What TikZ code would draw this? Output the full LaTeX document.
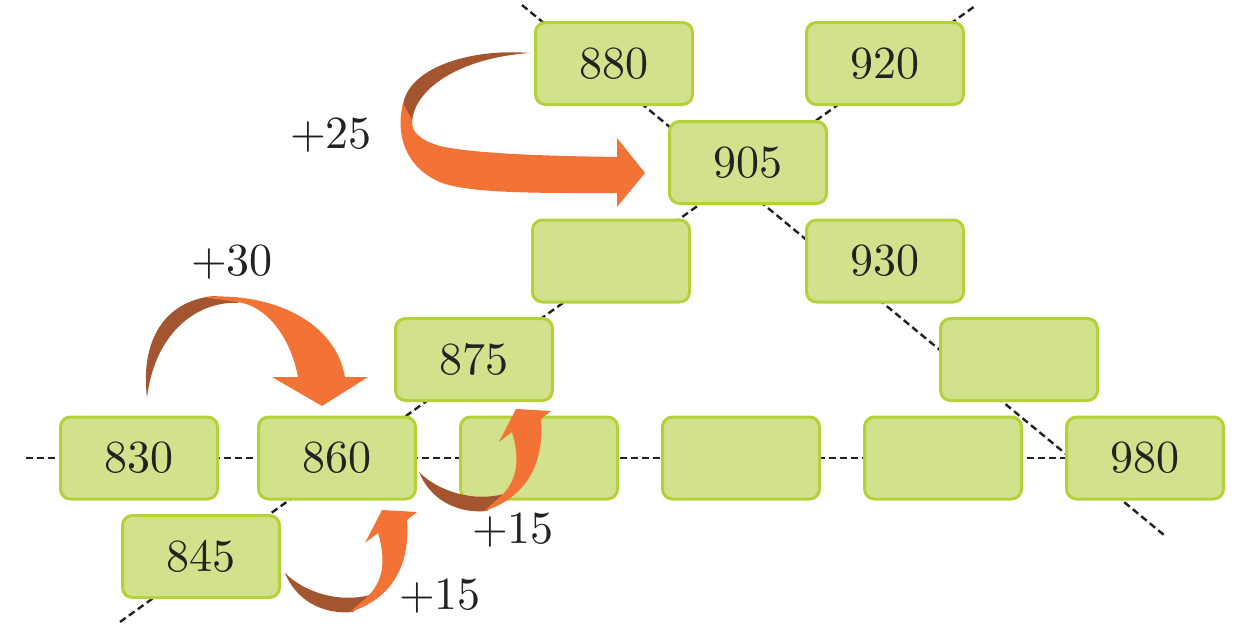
\documentclass[tikz,border=0pt]{standalone}
\usepackage{fontspec}
\setmainfont{lmroman10-regular.otf}
\definecolor{boxfill}{HTML}{D2E18B}
\definecolor{boxline}{HTML}{B3D23A}
\definecolor{arrorange}{HTML}{F37336}
\definecolor{arrbrown}{HTML}{A3552F}
\definecolor{txt}{HTML}{222222}
\tikzset{
  numbox/.style={draw=boxline, fill=boxfill, line width=3pt, rounded corners=10pt,
    minimum width=157pt, minimum height=82pt, inner sep=0pt, text=txt,
    font=\fontsize{46}{56}\selectfont},
  guide/.style={dash pattern=on 7pt off 4pt, line width=2.4pt, draw=txt},
  steplabel/.style={anchor=base, text=txt, inner sep=0pt, font=\fontsize{46}{56}\selectfont},
  frontface/.style={fill=arrorange},
  backface/.style={fill=arrbrown},
}
\newcommand{\hoparrow}[1]{%
  \begin{scope}[shift={#1}]
    \fill[backface] (0,0) .. controls (10,25) and (35,42) .. (68,39) -- (85,22)
      .. controls (55,30) and (20,20) .. (0,0) -- cycle;
    \fill[frontface] (65,39) .. controls (100,28) and (126,0) .. (122,-53) -- (132,-61)
      -- (97,-63) -- (80,-30) -- (93,-40) .. controls (102,-10) and (97,10) .. (82,24) -- cycle;
  \end{scope}}
\begin{document}
\begin{tikzpicture}[x=1pt,y=-1pt]
\useasboundingbox (0,0) rectangle (1239,640);
% guide lines (behind boxes)
\coordinate (h0) at (26,458);
\coordinate (h1) at (1100,458);
\coordinate (d0) at (120,622);
\coordinate (d1) at (975,6);
\coordinate (e0) at (522,5);
\coordinate (e1) at (1164,535);
\draw[guide] (h0) -- (h1);
\draw[guide] (d0) -- (d1);
\draw[guide] (e0) -- (e1);
% boxes
\node[numbox] (b880) at (614,63.5) {880};
\node[numbox] (b920) at (885,63.5) {920};
\node[numbox] (b905) at (748,162.5) {905};
\node[numbox] (bl2) at (611,261) {};
\node[numbox] (b930) at (885,261) {930};
\node[numbox] (b875) at (474,359.5) {875};
\node[numbox] (br3) at (1019,359.5) {};
\node[numbox] (b830) at (139,458) {830};
\node[numbox] (b860) at (337,458) {860};
\node[numbox] (bx1) at (539,458) {};
\node[numbox] (bx2) at (741,458) {};
\node[numbox] (bx3) at (943,458) {};
\node[numbox] (b980) at (1145,458) {980};
\node[numbox] (b845) at (201,556.5) {845};
% arrow +25
\fill[backface] (530,53) .. controls (470,48) and (408,68) .. (403,105) -- (412,123)
  .. controls (413,90) and (458,58) .. (530,53) -- cycle;
\fill[frontface] (403,103) .. controls (394,140) and (410,172) .. (445,184)
  .. controls (480,194) and (550,193) .. (617,193) -- (617,207) -- (645,173) -- (617,138)
  -- (617,157) .. controls (550,156) and (475,154) .. (440,146)
  .. controls (420,140) and (411,132) .. (412,120) -- cycle;
% arrow +30
\fill[backface] (147,398) .. controls (140,340) and (165,300) .. (215,296) -- (240,303)
  .. controls (200,300) and (155,330) .. (147,398) -- cycle;
\fill[frontface] (203,297) .. controls (270,292) and (335,320) .. (345,377) -- (368,377)
  -- (322,406) -- (272,377) -- (298,377) .. controls (290,335) and (265,305) .. (237,302) -- cycle;
% small arrows +15
\hoparrow{(285,573)}
\hoparrow{(419,472)}
% labels
\node[steplabel] (l25) at (331,148) {+25};
\node[steplabel] (l30) at (232,275) {+30};
\node[steplabel] (l15a) at (513,543) {+15};
\node[steplabel] (l15b) at (440,609) {+15};
\end{tikzpicture}
\end{document}
